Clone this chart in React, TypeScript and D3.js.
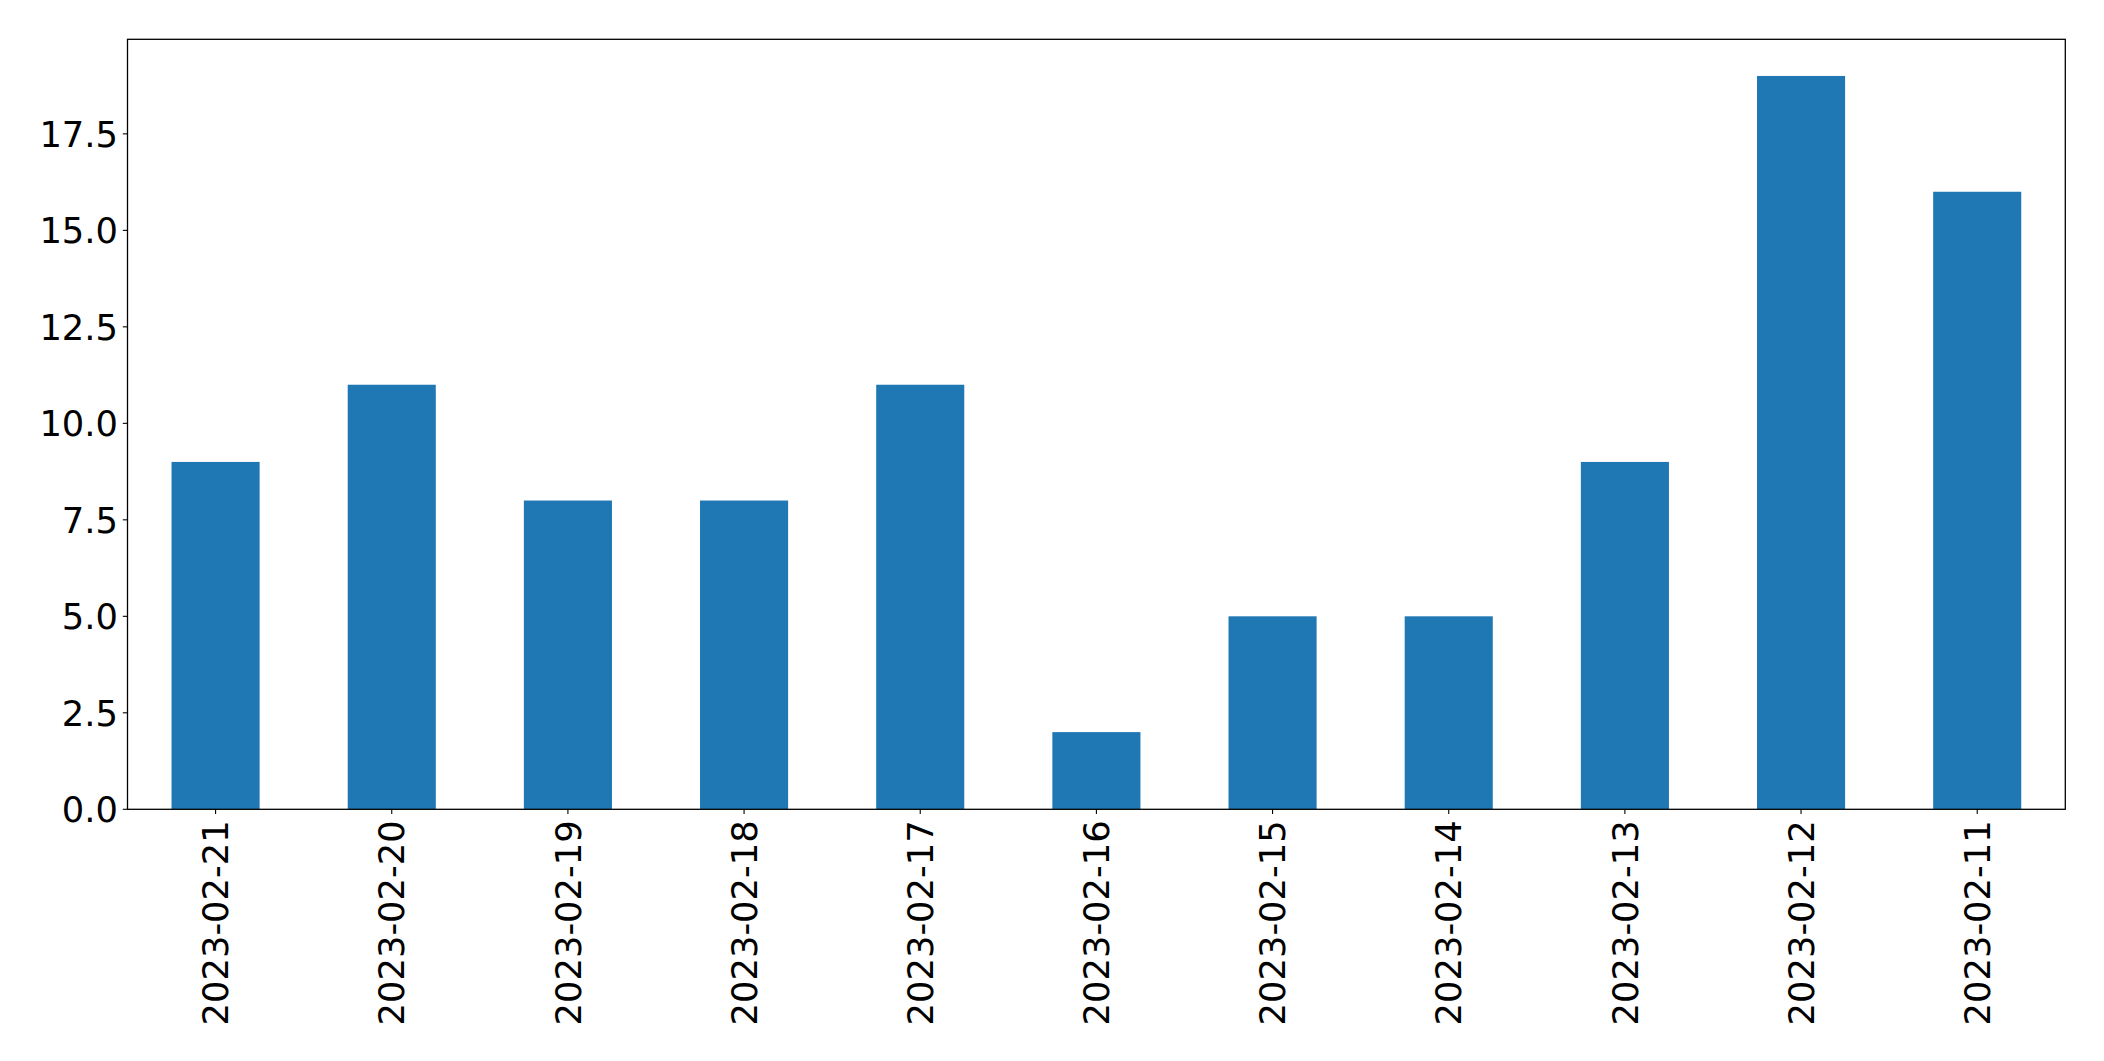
import React from "react";
import * as d3 from "d3";

const categories = ["2023-02-21","2023-02-20","2023-02-19","2023-02-18","2023-02-17","2023-02-16","2023-02-15","2023-02-14","2023-02-13","2023-02-12","2023-02-11"];
const values = [9, 11, 8, 8, 11, 2, 5, 5, 9, 19, 16];
const yTicks = [0, 2.5, 5, 7.5, 10, 12.5, 15, 17.5];

const W = 2104, H = 1061;
const left = 127.5, right = 2065.3, top = 39.3, bottom = 809.3;
const FS = 35.3;
const FONT = "DejaVu Sans";

export default function App() {
  const x = d3.scaleLinear().domain([-0.5, categories.length - 0.5]).range([left, right]);
  const y = d3.scaleLinear().domain([0, d3.max(values)! * 1.05]).range([bottom, top]);
  const bw = (x(1) - x(0)) * 0.5;
  return (
    <svg width={W} height={H} style={{ position: "absolute", left: 0, top: 0 }}>
      <rect x={0} y={0} width={W} height={H} fill="#fff" />
      {values.map((v, i) => (
        <rect key={i} x={x(i) - bw / 2} y={y(v)} width={bw} height={y(0) - y(v)} fill="#1f77b4" />
      ))}
      <rect x={left} y={top} width={right - left} height={bottom - top} fill="none" stroke="#000" strokeWidth={1.3} />
      {yTicks.map((t) => (
        <g key={t}>
          <line x1={left - 4.7} x2={left} y1={y(t)} y2={y(t)} stroke="#000" strokeWidth={1.1} />
          <text x={left - 9.5} y={y(t)} dy="0.36em" textAnchor="end" fontFamily={FONT} fontSize={FS} fill="#000">
            {d3.format(".1f")(t)}
          </text>
        </g>
      ))}
      {categories.map((c, i) => (
        <g key={c}>
          <line x1={x(i)} x2={x(i)} y1={bottom} y2={bottom + 4.7} stroke="#000" strokeWidth={1.1} />
          <text
            transform={`translate(${x(i)},${bottom + 11}) rotate(-90)`}
            dy="0.36em"
            textAnchor="end"
            fontFamily={FONT}
            fontSize={FS}
            fill="#000"
          >
            {c}
          </text>
        </g>
      ))}
    </svg>
  );
}
